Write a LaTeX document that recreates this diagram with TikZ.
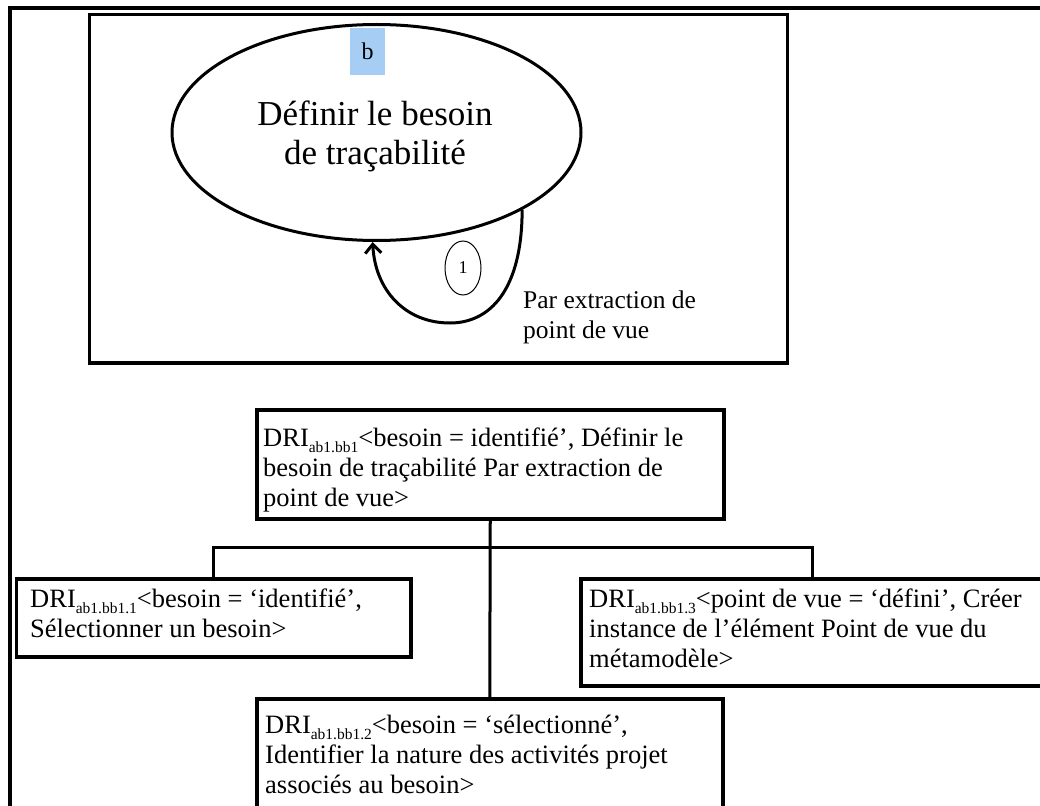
\documentclass[tikz,border=0pt]{standalone}
\usepackage{fontspec}
\setmainfont{Liberation Serif}
\usetikzlibrary{shapes.geometric,arrows.meta}
\definecolor{tagblue}{RGB}{166,206,244}
\tikzset{
  framebox/.style={draw=black,line width=3.5pt,rectangle,inner sep=0pt,anchor=north west},
  link/.style={draw=black,line width=3pt},
  txt/.style={inner sep=0pt,anchor=base west,font=\fontsize{26.5}{30}\selectfont},
}
\newcommand\drisub[1]{\raisebox{-6pt}{\fontsize{15.5}{15.5}\selectfont #1}}
\newcommand\mylines[1]{\begin{tabular}[t]{@{}l@{}}#1\end{tabular}}
\begin{document}
\begin{tikzpicture}[x=1pt,y=-1pt]
\useasboundingbox (0,0) rectangle (1040,805);
\clip (0,0) rectangle (1040,805);
\fill[white] (0,0) rectangle (1040,805);
% outer frame (only its left and top sides fall in the picture)
\draw[line width=4pt] (1060,8) -- (9.5,8) -- (9.5,830);
% top panel
\node[framebox,minimum width=698,minimum height=348] (panel) at (87.5,13) {};
\node[draw=black,ellipse,line width=3pt,minimum width=409,minimum height=216,inner sep=0pt] (ell) at (376.5,132.5) {};
\node[fill=tagblue,minimum width=35,minimum height=47,inner sep=0pt,font=\fontsize{24}{24}\selectfont] (tag) at (367.5,51.5) {b};
\node[inner sep=0pt,anchor=base,font=\fontsize{35}{39}\selectfont] (elltext) at (375,126)
  {\begin{tabular}[t]{@{}c@{}}Définir le besoin\\de traçabilité\end{tabular}};
\node[draw=black,ellipse,line width=1pt,minimum width=36,minimum height=54,inner sep=0pt,font=\fontsize{18}{18}\selectfont] (one) at (463,268) {1};
\draw[link,-{Straight Barb[length=9pt,width=16pt]}] (ell.-28.4) .. controls (522,290) and (490,323) .. (450,323) .. controls (405,323) and (375,290) .. (ell.-92);
\node[txt,font=\fontsize{25.5}{30}\selectfont] (loopname) at (523,308) {\mylines{Par extraction de\\point de vue}};
% lower tree
\node[framebox,minimum width=467,minimum height=109] (parent) at (255,408) {};
\node[framebox,minimum width=394.5,minimum height=78] (left) at (14.5,577) {};
\node[framebox,minimum width=481,minimum height=107] (right) at (579,577) {};
\node[framebox,minimum width=466,minimum height=133] (bottom) at (255,697) {};
\coordinate (rdrop) at ([xshift=233pt]right.north west);
\draw[link] (parent.south) -- (bottom.north);
\draw[link] (left.north) -- ++(0,-30) -| (rdrop);
\node[txt] (parenttext) at (263,446) {\mylines{DRI\drisub{ab1.bb1}<besoin = identifié’, Définir le\\besoin de traçabilité Par extraction de\\point de vue>}};
\node[txt] (lefttext) at (30,607) {\mylines{DRI\drisub{ab1.bb1.1}<besoin = ‘identifié’,\\Sélectionner un besoin>}};
\node[txt] (righttext) at (589,607) {\mylines{DRI\drisub{ab1.bb1.3}<point de vue = ‘défini’, Créer\\instance de l'élément Point de vue du\\métamodèle>}};
\node[txt] (bottomtext) at (265,733) {\mylines{DRI\drisub{ab1.bb1.2}<besoin = ‘sélectionné’,\\Identifier la nature des activités projet\\associés au besoin>}};
\end{tikzpicture}
\end{document}
